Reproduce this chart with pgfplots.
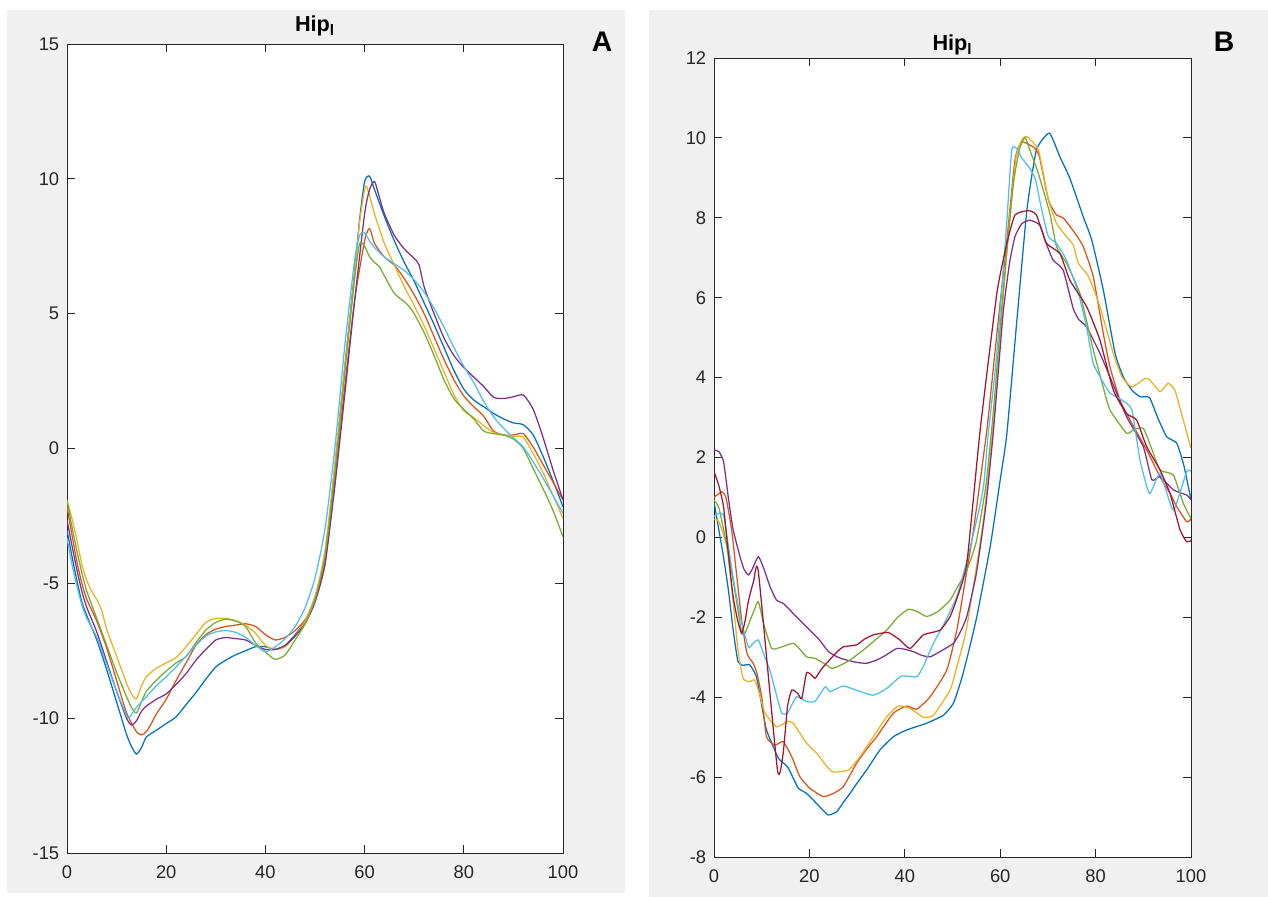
\documentclass[border=0pt]{standalone}
\usepackage{fontspec}
\setmainfont{Liberation Sans}
\usepackage{pgfplots}
\pgfplotsset{compat=1.18}
\definecolor{mBlue}{HTML}{0072BD}
\definecolor{mOrange}{HTML}{D95319}
\definecolor{mYellow}{HTML}{EDB120}
\definecolor{mPurple}{HTML}{7E2F8E}
\definecolor{mGreen}{HTML}{77AC30}
\definecolor{mCyan}{HTML}{4DBEEE}
\definecolor{mRed}{HTML}{A2142F}
\definecolor{axgray}{HTML}{262626}
\definecolor{figbg}{HTML}{F0F0F0}
\pgfplotsset{
  hipstyle/.style={
    scale only axis, anchor=south west,
    xmin=0, xmax=100, xtick={0,20,...,100},
    axis line style={axgray, line width=0.6pt},
    tick style={axgray, line width=0.6pt},
    tick align=inside, major tick length=4.8pt,
    xtick pos=both, ytick pos=both,
    axis background/.style={fill=white},
    tick label style={font=\fontsize{11}{13}\selectfont, text=axgray},
    /pgf/number format/assume math mode=true,
    yticklabel style={inner sep=0pt, xshift=-4.5pt},
    xticklabel style={inner sep=0pt, yshift=-7.2pt},
    every axis title shift=0pt,
    title={\textbf{Hip\textsubscript{l}}},
    every axis plot/.append style={line width=0.75pt, no marks},
  }
}
\begin{document}
\begin{tikzpicture}
\fill[white] (0pt,0pt) rectangle (760.8pt,-538.2pt);
\fill[figbg] (4.2pt,-6pt) rectangle (375pt,-535.8pt);
\fill[figbg] (389.4pt,-6pt) rectangle (760.8pt,-538.2pt);

% panel A
\begin{axis}[hipstyle, at={(40.2pt,-511.8pt)}, width=297.6pt, height=485.4pt,
  ymin=-15, ymax=15, ytick={-15,-10,...,15},
  every axis plot/.append style={smooth, tension=0.4},
  title style={at={(0.5,1)}, anchor=base, yshift=7.5pt, font=\fontsize{13}{15}\selectfont}]
\addplot[mBlue] coordinates {(0,-3.02)(1,-4.0)(2,-4.9)(3,-5.7)(4,-6.2)(6,-7.1)(8,-8.2)(10,-9.4)(12,-10.6)(13,-11.05)(14,-11.33)(15,-11.1)(16,-10.7)(18,-10.45)(20,-10.2)(22,-9.95)(24,-9.5)(26,-9.05)(28,-8.55)(30,-8.1)(32,-7.85)(34,-7.65)(36,-7.5)(38,-7.35)(40,-7.35)(42,-7.45)(44,-7.3)(46,-6.9)(48,-6.4)(50,-5.5)(52,-4.0)(54,-0.7)(56,3.0)(58,6.6)(59,8.5)(60,9.9)(61,10.1)(62,9.6)(64,8.6)(66,7.7)(68,6.9)(70,6.2)(72,5.4)(74,4.6)(76,3.75)(78,2.9)(80,2.2)(82,1.8)(84,1.55)(86,1.3)(88,1.1)(90,0.95)(92,0.88)(94,0.5)(96,-0.3)(98,-1.2)(100,-2.16)};
\addplot[mOrange] coordinates {(0,-2.16)(1,-3.2)(2,-4.2)(3,-5.0)(4,-5.6)(6,-6.4)(8,-7.4)(10,-8.6)(12,-9.8)(14,-10.5)(15,-10.62)(16,-10.5)(17,-10.2)(18,-9.85)(20,-9.3)(22,-8.6)(24,-7.95)(26,-7.3)(28,-6.9)(30,-6.7)(32,-6.6)(34,-6.55)(36,-6.5)(38,-6.6)(40,-6.9)(42,-7.1)(44,-7.0)(46,-6.75)(48,-6.35)(50,-5.6)(52,-4.3)(54,-1.2)(56,2.3)(58,5.5)(60,7.7)(61,8.16)(62,7.6)(64,7.1)(66,6.8)(68,6.3)(70,5.7)(72,5.0)(74,4.15)(76,3.3)(78,2.55)(80,1.95)(82,1.55)(84,1.2)(86,0.65)(88,0.5)(90,0.5)(92,0.55)(94,0.05)(96,-0.6)(98,-1.25)(100,-1.91)};
\addplot[mYellow] coordinates {(0,-1.91)(1,-2.6)(2,-3.4)(3,-4.3)(4,-4.9)(5,-5.3)(6,-5.6)(7,-6.0)(8,-6.7)(10,-7.7)(12,-8.7)(13,-9.1)(14,-9.29)(15,-8.8)(16,-8.46)(18,-8.15)(20,-7.95)(22,-7.75)(24,-7.35)(26,-6.9)(28,-6.45)(30,-6.3)(32,-6.3)(34,-6.38)(36,-6.55)(38,-6.85)(40,-7.3)(42,-7.45)(44,-7.35)(46,-6.95)(48,-6.4)(50,-5.5)(52,-3.8)(54,-0.6)(56,3.0)(58,6.5)(59,8.4)(60,9.6)(60.5,9.68)(62,8.7)(64,7.6)(66,6.8)(68,6.0)(70,5.3)(72,4.55)(74,3.7)(76,2.85)(78,2.0)(80,1.4)(82,1.15)(84,0.85)(86,0.6)(88,0.5)(90,0.45)(92,0.42)(94,-0.2)(96,-0.9)(98,-1.75)(100,-2.59)};
\addplot[mPurple] coordinates {(0,-2.65)(1,-3.6)(2,-4.5)(3,-5.3)(4,-5.9)(6,-6.8)(8,-7.9)(10,-9.0)(12,-10.0)(13,-10.25)(14,-10.1)(15,-9.75)(16,-9.55)(18,-9.3)(20,-9.1)(22,-8.75)(24,-8.35)(26,-7.85)(28,-7.45)(30,-7.1)(32,-7.01)(34,-7.05)(36,-7.1)(38,-7.3)(40,-7.45)(42,-7.45)(44,-7.3)(46,-6.95)(48,-6.5)(50,-5.7)(52,-4.3)(54,-1.4)(56,2.0)(58,5.5)(60,8.7)(61,9.6)(62,9.9)(63,9.3)(64,8.7)(66,7.9)(68,7.4)(70,7.05)(71,6.8)(72,6.0)(74,5.0)(76,4.1)(78,3.45)(80,3.0)(82,2.65)(84,2.3)(86,1.9)(88,1.85)(90,1.92)(92,1.98)(94,1.45)(96,0.4)(98,-0.8)(100,-1.9)};
\addplot[mGreen] coordinates {(0,-1.91)(1,-2.9)(2,-3.8)(3,-4.6)(4,-5.3)(6,-6.3)(8,-7.3)(10,-8.3)(12,-9.2)(13,-9.6)(14,-9.81)(15,-9.4)(16,-9.0)(18,-8.6)(20,-8.25)(22,-7.95)(24,-7.72)(26,-7.2)(28,-6.73)(30,-6.45)(32,-6.33)(34,-6.4)(36,-6.6)(38,-7.2)(40,-7.55)(42,-7.82)(44,-7.65)(46,-7.1)(48,-6.5)(50,-5.6)(52,-4.0)(54,-0.9)(56,2.8)(58,6.3)(59,7.6)(60,7.5)(61,7.11)(62,6.9)(63,6.74)(64,6.4)(66,5.75)(68,5.45)(69,5.26)(70,5.0)(72,4.3)(74,3.45)(76,2.55)(78,1.85)(80,1.45)(82,1.1)(84,0.65)(86,0.55)(88,0.5)(90,0.35)(92,0.0)(94,-0.75)(96,-1.5)(98,-2.3)(100,-3.27)};
\addplot[mCyan] coordinates {(0,-3.32)(1,-4.3)(2,-5.1)(3,-5.8)(4,-6.3)(6,-7.0)(8,-8.0)(10,-9.0)(12,-9.9)(12.5,-9.99)(14,-9.6)(16,-9.2)(18,-8.8)(20,-8.46)(22,-8.1)(24,-7.7)(26,-7.3)(28,-6.95)(30,-6.8)(32,-6.75)(34,-6.82)(36,-7.0)(38,-7.3)(40,-7.53)(42,-7.35)(44,-7.05)(46,-6.6)(48,-5.9)(50,-4.8)(52,-3.0)(54,0.0)(56,3.8)(58,7.0)(59,7.9)(60,8.0)(61,7.7)(62,7.45)(64,7.1)(66,6.85)(68,6.6)(70,6.25)(72,5.8)(74,5.2)(76,4.5)(78,3.75)(80,3.05)(82,2.45)(84,1.75)(86,1.18)(88,0.75)(90,0.4)(92,0.05)(94,-0.5)(96,-1.1)(98,-1.75)(100,-2.4)};
\end{axis}

% panel B
\begin{axis}[hipstyle, at={(428.4pt,-514.2pt)}, width=286.2pt, height=479.4pt,
  ymin=-8, ymax=12, ytick={-8,-6,...,12},
  every axis plot/.append style={smooth, tension=0.3},
  title style={at={(0.5,1)}, anchor=base, yshift=4.8pt, font=\fontsize{13}{15}\selectfont}]
\addplot[mBlue] coordinates {(0,0.89)(1,0.2)(2,-0.5)(3,-1.3)(4,-2.3)(5,-3.1)(6,-3.2)(7.5,-3.19)(8.9,-3.49)(10,-4.2)(11,-4.82)(12.3,-5.2)(13.5,-5.53)(15.4,-5.74)(16.5,-6.0)(17.7,-6.28)(19.4,-6.41)(21.5,-6.66)(23,-6.85)(24,-6.95)(25.7,-6.87)(27,-6.65)(28.5,-6.41)(30,-6.15)(32,-5.82)(34.8,-5.32)(37.6,-4.99)(40.4,-4.82)(44.6,-4.65)(48.1,-4.45)(50.2,-4.15)(52,-3.5)(53.5,-2.8)(55.1,-1.98)(57.9,-0.23)(60,1.44)(61.4,2.6)(63.5,5.44)(65.6,8.2)(67.6,9.7)(70.3,10.12)(72.5,9.53)(74.6,8.99)(77.4,8.03)(79.2,7.44)(81.6,6.2)(84.1,4.6)(85.8,4.02)(87.5,3.7)(89.3,3.52)(91.3,3.5)(93,3.0)(94.9,2.52)(97,2.36)(98.5,1.8)(100,0.94)};
\addplot[mOrange] coordinates {(0,1.0)(1.6,1.14)(2.5,1.0)(3.7,0.19)(4.8,-1.0)(5.8,-2.07)(6.9,-2.9)(8.2,-3.15)(9,-3.4)(10,-3.99)(11,-4.99)(12.8,-5.2)(14.5,-5.11)(16.3,-5.49)(18,-5.99)(20.1,-6.28)(22.9,-6.49)(25,-6.41)(27.1,-6.24)(29.9,-5.65)(32,-5.3)(34.1,-4.99)(37.6,-4.4)(40.4,-4.22)(42.5,-4.3)(45.3,-3.99)(48.8,-3.32)(50.9,-2.32)(52.5,-1.2)(54.4,0.19)(57.2,2.69)(59.3,5.1)(61.4,7.44)(63.1,9.45)(64.5,9.9)(67.3,9.74)(68.3,9.49)(70.1,8.45)(71.8,8.07)(73.2,8.0)(75.7,7.61)(77.4,7.28)(79.5,6.53)(81.6,5.11)(83,4.27)(85.1,3.44)(87.2,2.94)(90.7,2.19)(93.5,1.52)(95.6,1.1)(97,0.77)(99.1,0.39)(100,0.46)};
\addplot[mYellow] coordinates {(0,0.45)(1,0.4)(2.7,-0.23)(4,-1.6)(5,-2.8)(6.1,-3.53)(7.5,-3.61)(8.5,-3.57)(9.5,-3.9)(10.7,-4.4)(13.1,-4.74)(15.4,-4.61)(16.6,-4.65)(19.4,-5.15)(21.5,-5.4)(24.7,-5.86)(28.2,-5.82)(30.6,-5.49)(33.4,-4.99)(36.2,-4.49)(38.6,-4.22)(41.1,-4.28)(43.9,-4.5)(46,-4.45)(49.5,-3.82)(51,-3.2)(53,-2.24)(56.5,0.44)(58.6,2.9)(60.5,5.8)(62,8.0)(63.3,9.5)(64.5,9.95)(65.6,10.03)(68,9.7)(70.1,8.45)(71.8,7.86)(73.9,7.53)(75.3,7.32)(76.4,6.86)(78.5,6.53)(80.9,5.78)(83.7,4.61)(85.5,4.02)(87.6,3.77)(90.4,3.98)(91.3,3.95)(93.5,3.65)(95.2,3.86)(96.6,3.69)(98,3.1)(100,2.23)};
\addplot[mPurple] coordinates {(0,2.19)(1,2.15)(2,1.9)(3,1.0)(4,0.2)(5.45,-0.48)(6.3,-0.8)(7.2,-0.94)(8,-0.8)(9.3,-0.48)(10.5,-0.8)(11.8,-1.25)(13.1,-1.57)(14.5,-1.65)(17,-1.95)(20.1,-2.32)(22,-2.55)(24,-2.86)(26,-3.0)(27.8,-3.07)(30,-3.13)(32,-3.15)(34.1,-3.07)(36,-2.95)(38.3,-2.78)(40,-2.8)(41.8,-2.86)(43.5,-2.95)(45.3,-2.99)(47.5,-2.85)(50.2,-2.65)(51.5,-2.4)(53,-1.98)(55,-0.9)(57,0.8)(58.6,2.69)(60.6,5.6)(62,6.9)(63.1,7.53)(64.5,7.85)(66.2,7.94)(68.3,7.82)(69.5,7.4)(71.1,6.94)(73.2,6.69)(75.3,5.73)(76.5,5.45)(78.1,5.27)(80.9,4.61)(83,4.02)(86.5,3.02)(90,2.27)(91.8,1.44)(93.5,1.52)(96.3,1.19)(99.1,1.06)(100,0.94)};
\addplot[mGreen] coordinates {(0,0.94)(1,0.75)(2,0.2)(3,-0.4)(4,-1.07)(5,-1.8)(5.8,-2.4)(6.5,-2.4)(7.5,-2.1)(8.5,-1.8)(9.3,-1.61)(10.5,-2.2)(12.1,-2.78)(14,-2.75)(16.6,-2.65)(18,-2.8)(19.4,-2.99)(21.2,-3.03)(23,-3.15)(24.7,-3.28)(26.5,-3.2)(28.5,-3.07)(31.3,-2.82)(33.5,-2.6)(36.2,-2.32)(38.5,-2.0)(40.7,-1.8)(42.5,-1.85)(44.6,-1.98)(47,-1.85)(49.5,-1.57)(51,-1.25)(53,-0.82)(55,-0.1)(57,1.3)(58.6,3.2)(60.5,6.0)(62.7,8.78)(64,9.7)(65.2,10.01)(66.5,9.6)(68,9.11)(70.4,8.11)(71.8,7.28)(73.9,6.86)(76.7,6.11)(79.5,4.7)(81.5,3.8)(83,3.19)(86.5,2.61)(88,2.7)(90,2.73)(91.5,2.3)(93.5,1.69)(96.3,1.56)(98.4,0.85)(100,0.47)};
\addplot[mCyan] coordinates {(0,0.52)(1,0.6)(2,0.56)(3,-0.2)(4,-1.0)(5.5,-1.98)(7.2,-2.74)(8.2,-2.65)(9.3,-2.57)(10.5,-2.95)(11.7,-3.32)(13,-3.9)(14.2,-4.4)(15.4,-4.4)(17.3,-3.99)(19.4,-4.11)(21.2,-4.1)(23.3,-3.74)(24.3,-3.86)(27.1,-3.72)(30,-3.83)(33.4,-3.95)(36.2,-3.78)(39.3,-3.47)(42.5,-3.49)(44,-3.2)(46,-2.65)(48.5,-2.1)(50.9,-1.48)(53,-0.6)(55,0.4)(56.5,1.27)(57.5,2.6)(59.3,4.61)(61.4,7.94)(62.4,9.7)(63.4,9.74)(64.5,9.5)(66.2,9.24)(67.4,8.95)(68.7,8.2)(70.1,7.53)(71.8,7.36)(73.9,6.94)(76.4,6.11)(78.1,5.27)(79.5,4.36)(81.5,3.9)(83,3.61)(85.5,3.44)(87.6,3.19)(89.3,1.94)(91.3,1.1)(93.5,1.6)(96.3,0.69)(99.1,1.65)(100,1.65)};
\addplot[mRed] coordinates {(0,1.65)(1,1.3)(2,0.77)(3,-0.4)(4,-1.48)(5,-2.1)(5.8,-2.4)(6.5,-2.1)(7.2,-1.6)(8.3,-1.1)(9.3,-0.86)(13.3,-5.82)(14.5,-5.4)(15.4,-4.24)(16.3,-3.82)(17.5,-3.9)(18.4,-4.03)(19.4,-3.39)(20.5,-3.45)(21.2,-3.53)(22.5,-3.3)(23.6,-3.15)(25.5,-2.9)(27.1,-2.74)(29.9,-2.69)(31.5,-2.55)(33.4,-2.44)(36.5,-2.38)(39,-2.57)(41.1,-2.78)(43.9,-2.44)(47.4,-2.32)(49.5,-1.98)(51,-1.5)(53,-0.65)(55.8,2.69)(59.3,6.11)(61.4,7.36)(63.1,8.07)(65.9,8.18)(67.6,8.07)(69.7,7.36)(72.5,7.11)(74.6,6.44)(78.1,5.78)(80.9,4.94)(83.7,3.69)(86.5,3.1)(88.6,2.94)(90.7,2.27)(93.5,1.69)(95.6,1.1)(97.7,0.19)(99.1,-0.11)(100,-0.08)};
\end{axis}

\node[font=\fontsize{17}{20}\selectfont\bfseries] at (361.2pt,-25.2pt) {A};
\node[font=\fontsize{17}{20}\selectfont\bfseries] at (734.4pt,-25.2pt) {B};
\end{tikzpicture}
\end{document}
